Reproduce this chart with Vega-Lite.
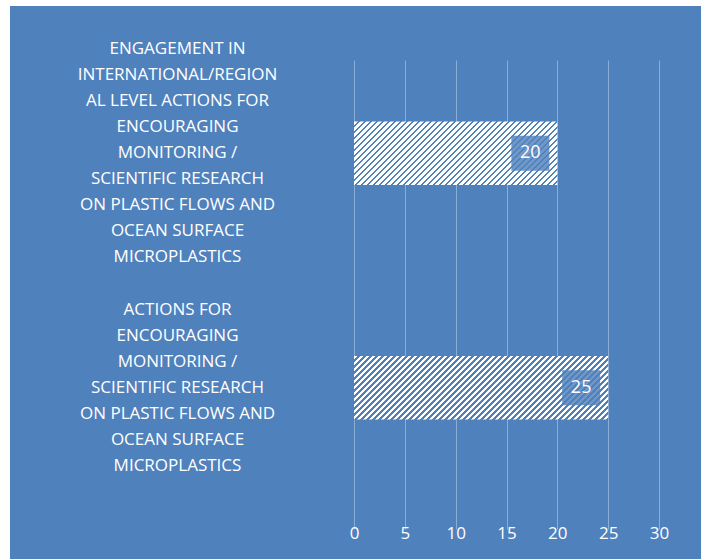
{
 "$schema": "https://vega.github.io/schema/vega-lite/v6.json",
 "width": 691, "height": 553,
 "autosize": {"type": "none"},
 "padding": {"left": 10, "top": 6, "right": 3, "bottom": 0},
 "background": "white",
 "config": {"view": {"fill": "#4f81bd", "stroke": null}, "font": "Open Sans"},
 "data": {"values": [
   {"label": "ENGAGEMENT IN\nINTERNATIONAL/REGION\nAL LEVEL ACTIONS FOR\nENCOURAGING\nMONITORING /\nSCIENTIFIC RESEARCH\nON PLASTIC FLOWS AND\nOCEAN SURFACE\nMICROPLASTICS", "value": 20},
   {"label": "ACTIONS FOR\nENCOURAGING\nMONITORING /\nSCIENTIFIC RESEARCH\nON PLASTIC FLOWS AND\nOCEAN SURFACE\nMICROPLASTICS", "value": 25}
 ]},
 "encoding": {
   "y": {"field": "label", "type": "nominal", "sort": null,
     "scale": {"range": [30, 499], "paddingInner": 0.73, "paddingOuter": 0.365},
     "axis": {"title": null, "orient": "left", "offset": -167, "domain": false, "ticks": false, "tickSize": 0, "labelPadding": 0, "labelAlign": "center", "labelBaseline": "middle", "labelFontSize": 17, "labelColor": "white", "labelLineHeight": 26, "labelLimit": 0, "labelExpr": "split(datum.label, '\\n')", "labelOffset": {"condition": {"test": "indexof(datum.value, 'ENGAGEMENT') === 0", "value": -104}, "value": -78}, "grid": false}},
   "x": {"field": "value", "type": "quantitative",
     "scale": {"domain": [-33.836, 34.131], "nice": false, "zero": false},
     "axis": {"title": null, "values": [0, 5, 10, 15, 20, 25, 30], "orient": "bottom", "offset": -54, "domain": false, "ticks": false, "tickSize": 0, "labelPadding": 20, "labelFontSize": 17, "labelColor": "white", "grid": true, "gridColor": "white", "gridOpacity": 0.35, "gridWidth": 1}}
 },
 "layer": [
  {"transform": [{"filter": "datum.value == 20"}],
   "mark": {"type": "bar", "fill": {"gradient": "linear", "x1": 0, "y1": 0, "x2": 2.69, "y2": 0.8376, "stops": [
{"offset":0,"color":"#fff"},{"offset":0.0062,"color":"#fff"},{"offset":0.0062,"color":"#4f81bd"},{"offset":0.01,"color":"#4f81bd"},
{"offset":0.01,"color":"#fff"},{"offset":0.0162,"color":"#fff"},{"offset":0.0162,"color":"#4f81bd"},{"offset":0.02,"color":"#4f81bd"},
{"offset":0.02,"color":"#fff"},{"offset":0.0262,"color":"#fff"},{"offset":0.0262,"color":"#4f81bd"},{"offset":0.03,"color":"#4f81bd"},
{"offset":0.03,"color":"#fff"},{"offset":0.0362,"color":"#fff"},{"offset":0.0362,"color":"#4f81bd"},{"offset":0.04,"color":"#4f81bd"},
{"offset":0.04,"color":"#fff"},{"offset":0.0462,"color":"#fff"},{"offset":0.0462,"color":"#4f81bd"},{"offset":0.05,"color":"#4f81bd"},
{"offset":0.05,"color":"#fff"},{"offset":0.0562,"color":"#fff"},{"offset":0.0562,"color":"#4f81bd"},{"offset":0.06,"color":"#4f81bd"},
{"offset":0.06,"color":"#fff"},{"offset":0.0662,"color":"#fff"},{"offset":0.0662,"color":"#4f81bd"},{"offset":0.07,"color":"#4f81bd"},
{"offset":0.07,"color":"#fff"},{"offset":0.0762,"color":"#fff"},{"offset":0.0762,"color":"#4f81bd"},{"offset":0.08,"color":"#4f81bd"},
{"offset":0.08,"color":"#fff"},{"offset":0.0862,"color":"#fff"},{"offset":0.0862,"color":"#4f81bd"},{"offset":0.09,"color":"#4f81bd"},
{"offset":0.09,"color":"#fff"},{"offset":0.0962,"color":"#fff"},{"offset":0.0962,"color":"#4f81bd"},{"offset":0.10,"color":"#4f81bd"},
{"offset":0.10,"color":"#fff"},{"offset":0.1062,"color":"#fff"},{"offset":0.1062,"color":"#4f81bd"},{"offset":0.11,"color":"#4f81bd"},
{"offset":0.11,"color":"#fff"},{"offset":0.1162,"color":"#fff"},{"offset":0.1162,"color":"#4f81bd"},{"offset":0.12,"color":"#4f81bd"},
{"offset":0.12,"color":"#fff"},{"offset":0.1262,"color":"#fff"},{"offset":0.1262,"color":"#4f81bd"},{"offset":0.13,"color":"#4f81bd"},
{"offset":0.13,"color":"#fff"},{"offset":0.1362,"color":"#fff"},{"offset":0.1362,"color":"#4f81bd"},{"offset":0.14,"color":"#4f81bd"},
{"offset":0.14,"color":"#fff"},{"offset":0.1462,"color":"#fff"},{"offset":0.1462,"color":"#4f81bd"},{"offset":0.15,"color":"#4f81bd"},
{"offset":0.15,"color":"#fff"},{"offset":0.1562,"color":"#fff"},{"offset":0.1562,"color":"#4f81bd"},{"offset":0.16,"color":"#4f81bd"},
{"offset":0.16,"color":"#fff"},{"offset":0.1662,"color":"#fff"},{"offset":0.1662,"color":"#4f81bd"},{"offset":0.17,"color":"#4f81bd"},
{"offset":0.17,"color":"#fff"},{"offset":0.1762,"color":"#fff"},{"offset":0.1762,"color":"#4f81bd"},{"offset":0.18,"color":"#4f81bd"},
{"offset":0.18,"color":"#fff"},{"offset":0.1862,"color":"#fff"},{"offset":0.1862,"color":"#4f81bd"},{"offset":0.19,"color":"#4f81bd"},
{"offset":0.19,"color":"#fff"},{"offset":0.1962,"color":"#fff"},{"offset":0.1962,"color":"#4f81bd"},{"offset":0.20,"color":"#4f81bd"},
{"offset":0.20,"color":"#fff"},{"offset":0.2062,"color":"#fff"},{"offset":0.2062,"color":"#4f81bd"},{"offset":0.21,"color":"#4f81bd"},
{"offset":0.21,"color":"#fff"},{"offset":0.2162,"color":"#fff"},{"offset":0.2162,"color":"#4f81bd"},{"offset":0.22,"color":"#4f81bd"},
{"offset":0.22,"color":"#fff"},{"offset":0.2262,"color":"#fff"},{"offset":0.2262,"color":"#4f81bd"},{"offset":0.23,"color":"#4f81bd"},
{"offset":0.23,"color":"#fff"},{"offset":0.2362,"color":"#fff"},{"offset":0.2362,"color":"#4f81bd"},{"offset":0.24,"color":"#4f81bd"},
{"offset":0.24,"color":"#fff"},{"offset":0.2462,"color":"#fff"},{"offset":0.2462,"color":"#4f81bd"},{"offset":0.25,"color":"#4f81bd"},
{"offset":0.25,"color":"#fff"},{"offset":0.2562,"color":"#fff"},{"offset":0.2562,"color":"#4f81bd"},{"offset":0.26,"color":"#4f81bd"},
{"offset":0.26,"color":"#fff"},{"offset":0.2662,"color":"#fff"},{"offset":0.2662,"color":"#4f81bd"},{"offset":0.27,"color":"#4f81bd"},
{"offset":0.27,"color":"#fff"},{"offset":0.2762,"color":"#fff"},{"offset":0.2762,"color":"#4f81bd"},{"offset":0.28,"color":"#4f81bd"},
{"offset":0.28,"color":"#fff"},{"offset":0.2862,"color":"#fff"},{"offset":0.2862,"color":"#4f81bd"},{"offset":0.29,"color":"#4f81bd"},
{"offset":0.29,"color":"#fff"},{"offset":0.2962,"color":"#fff"},{"offset":0.2962,"color":"#4f81bd"},{"offset":0.30,"color":"#4f81bd"},
{"offset":0.30,"color":"#fff"},{"offset":0.3062,"color":"#fff"},{"offset":0.3062,"color":"#4f81bd"},{"offset":0.31,"color":"#4f81bd"},
{"offset":0.31,"color":"#fff"},{"offset":0.3162,"color":"#fff"},{"offset":0.3162,"color":"#4f81bd"},{"offset":0.32,"color":"#4f81bd"},
{"offset":0.32,"color":"#fff"},{"offset":0.3262,"color":"#fff"},{"offset":0.3262,"color":"#4f81bd"},{"offset":0.33,"color":"#4f81bd"},
{"offset":0.33,"color":"#fff"},{"offset":0.3362,"color":"#fff"},{"offset":0.3362,"color":"#4f81bd"},{"offset":0.34,"color":"#4f81bd"},
{"offset":0.34,"color":"#fff"},{"offset":0.3462,"color":"#fff"},{"offset":0.3462,"color":"#4f81bd"},{"offset":0.35,"color":"#4f81bd"},
{"offset":0.35,"color":"#fff"},{"offset":0.3562,"color":"#fff"},{"offset":0.3562,"color":"#4f81bd"},{"offset":0.36,"color":"#4f81bd"},
{"offset":0.36,"color":"#fff"},{"offset":0.3662,"color":"#fff"},{"offset":0.3662,"color":"#4f81bd"},{"offset":0.37,"color":"#4f81bd"},
{"offset":0.37,"color":"#fff"},{"offset":0.3762,"color":"#fff"},{"offset":0.3762,"color":"#4f81bd"},{"offset":0.38,"color":"#4f81bd"},
{"offset":0.38,"color":"#fff"},{"offset":0.3862,"color":"#fff"},{"offset":0.3862,"color":"#4f81bd"},{"offset":0.39,"color":"#4f81bd"},
{"offset":0.39,"color":"#fff"},{"offset":0.3962,"color":"#fff"},{"offset":0.3962,"color":"#4f81bd"},{"offset":0.40,"color":"#4f81bd"},
{"offset":0.40,"color":"#fff"},{"offset":0.4062,"color":"#fff"},{"offset":0.4062,"color":"#4f81bd"},{"offset":0.41,"color":"#4f81bd"},
{"offset":0.41,"color":"#fff"},{"offset":0.4162,"color":"#fff"},{"offset":0.4162,"color":"#4f81bd"},{"offset":0.42,"color":"#4f81bd"},
{"offset":0.42,"color":"#fff"},{"offset":0.4262,"color":"#fff"},{"offset":0.4262,"color":"#4f81bd"},{"offset":0.43,"color":"#4f81bd"},
{"offset":0.43,"color":"#fff"},{"offset":0.4362,"color":"#fff"},{"offset":0.4362,"color":"#4f81bd"},{"offset":0.44,"color":"#4f81bd"},
{"offset":0.44,"color":"#fff"},{"offset":0.4462,"color":"#fff"},{"offset":0.4462,"color":"#4f81bd"},{"offset":0.45,"color":"#4f81bd"},
{"offset":0.45,"color":"#fff"}
   ]}}},
  {"transform": [{"filter": "datum.value == 25"}],
   "mark": {"type": "bar", "fill": {"gradient": "linear", "x1": 0, "y1": 0, "x2": 2.2227, "y2": 0.5537, "stops": [
{"offset":0,"color":"#fff"},{"offset":0.0062,"color":"#fff"},{"offset":0.0062,"color":"#4f81bd"},{"offset":0.01,"color":"#4f81bd"},
{"offset":0.01,"color":"#fff"},{"offset":0.0162,"color":"#fff"},{"offset":0.0162,"color":"#4f81bd"},{"offset":0.02,"color":"#4f81bd"},
{"offset":0.02,"color":"#fff"},{"offset":0.0262,"color":"#fff"},{"offset":0.0262,"color":"#4f81bd"},{"offset":0.03,"color":"#4f81bd"},
{"offset":0.03,"color":"#fff"},{"offset":0.0362,"color":"#fff"},{"offset":0.0362,"color":"#4f81bd"},{"offset":0.04,"color":"#4f81bd"},
{"offset":0.04,"color":"#fff"},{"offset":0.0462,"color":"#fff"},{"offset":0.0462,"color":"#4f81bd"},{"offset":0.05,"color":"#4f81bd"},
{"offset":0.05,"color":"#fff"},{"offset":0.0562,"color":"#fff"},{"offset":0.0562,"color":"#4f81bd"},{"offset":0.06,"color":"#4f81bd"},
{"offset":0.06,"color":"#fff"},{"offset":0.0662,"color":"#fff"},{"offset":0.0662,"color":"#4f81bd"},{"offset":0.07,"color":"#4f81bd"},
{"offset":0.07,"color":"#fff"},{"offset":0.0762,"color":"#fff"},{"offset":0.0762,"color":"#4f81bd"},{"offset":0.08,"color":"#4f81bd"},
{"offset":0.08,"color":"#fff"},{"offset":0.0862,"color":"#fff"},{"offset":0.0862,"color":"#4f81bd"},{"offset":0.09,"color":"#4f81bd"},
{"offset":0.09,"color":"#fff"},{"offset":0.0962,"color":"#fff"},{"offset":0.0962,"color":"#4f81bd"},{"offset":0.10,"color":"#4f81bd"},
{"offset":0.10,"color":"#fff"},{"offset":0.1062,"color":"#fff"},{"offset":0.1062,"color":"#4f81bd"},{"offset":0.11,"color":"#4f81bd"},
{"offset":0.11,"color":"#fff"},{"offset":0.1162,"color":"#fff"},{"offset":0.1162,"color":"#4f81bd"},{"offset":0.12,"color":"#4f81bd"},
{"offset":0.12,"color":"#fff"},{"offset":0.1262,"color":"#fff"},{"offset":0.1262,"color":"#4f81bd"},{"offset":0.13,"color":"#4f81bd"},
{"offset":0.13,"color":"#fff"},{"offset":0.1362,"color":"#fff"},{"offset":0.1362,"color":"#4f81bd"},{"offset":0.14,"color":"#4f81bd"},
{"offset":0.14,"color":"#fff"},{"offset":0.1462,"color":"#fff"},{"offset":0.1462,"color":"#4f81bd"},{"offset":0.15,"color":"#4f81bd"},
{"offset":0.15,"color":"#fff"},{"offset":0.1562,"color":"#fff"},{"offset":0.1562,"color":"#4f81bd"},{"offset":0.16,"color":"#4f81bd"},
{"offset":0.16,"color":"#fff"},{"offset":0.1662,"color":"#fff"},{"offset":0.1662,"color":"#4f81bd"},{"offset":0.17,"color":"#4f81bd"},
{"offset":0.17,"color":"#fff"},{"offset":0.1762,"color":"#fff"},{"offset":0.1762,"color":"#4f81bd"},{"offset":0.18,"color":"#4f81bd"},
{"offset":0.18,"color":"#fff"},{"offset":0.1862,"color":"#fff"},{"offset":0.1862,"color":"#4f81bd"},{"offset":0.19,"color":"#4f81bd"},
{"offset":0.19,"color":"#fff"},{"offset":0.1962,"color":"#fff"},{"offset":0.1962,"color":"#4f81bd"},{"offset":0.20,"color":"#4f81bd"},
{"offset":0.20,"color":"#fff"},{"offset":0.2062,"color":"#fff"},{"offset":0.2062,"color":"#4f81bd"},{"offset":0.21,"color":"#4f81bd"},
{"offset":0.21,"color":"#fff"},{"offset":0.2162,"color":"#fff"},{"offset":0.2162,"color":"#4f81bd"},{"offset":0.22,"color":"#4f81bd"},
{"offset":0.22,"color":"#fff"},{"offset":0.2262,"color":"#fff"},{"offset":0.2262,"color":"#4f81bd"},{"offset":0.23,"color":"#4f81bd"},
{"offset":0.23,"color":"#fff"},{"offset":0.2362,"color":"#fff"},{"offset":0.2362,"color":"#4f81bd"},{"offset":0.24,"color":"#4f81bd"},
{"offset":0.24,"color":"#fff"},{"offset":0.2462,"color":"#fff"},{"offset":0.2462,"color":"#4f81bd"},{"offset":0.25,"color":"#4f81bd"},
{"offset":0.25,"color":"#fff"},{"offset":0.2562,"color":"#fff"},{"offset":0.2562,"color":"#4f81bd"},{"offset":0.26,"color":"#4f81bd"},
{"offset":0.26,"color":"#fff"},{"offset":0.2662,"color":"#fff"},{"offset":0.2662,"color":"#4f81bd"},{"offset":0.27,"color":"#4f81bd"},
{"offset":0.27,"color":"#fff"},{"offset":0.2762,"color":"#fff"},{"offset":0.2762,"color":"#4f81bd"},{"offset":0.28,"color":"#4f81bd"},
{"offset":0.28,"color":"#fff"},{"offset":0.2862,"color":"#fff"},{"offset":0.2862,"color":"#4f81bd"},{"offset":0.29,"color":"#4f81bd"},
{"offset":0.29,"color":"#fff"},{"offset":0.2962,"color":"#fff"},{"offset":0.2962,"color":"#4f81bd"},{"offset":0.30,"color":"#4f81bd"},
{"offset":0.30,"color":"#fff"},{"offset":0.3062,"color":"#fff"},{"offset":0.3062,"color":"#4f81bd"},{"offset":0.31,"color":"#4f81bd"},
{"offset":0.31,"color":"#fff"},{"offset":0.3162,"color":"#fff"},{"offset":0.3162,"color":"#4f81bd"},{"offset":0.32,"color":"#4f81bd"},
{"offset":0.32,"color":"#fff"},{"offset":0.3262,"color":"#fff"},{"offset":0.3262,"color":"#4f81bd"},{"offset":0.33,"color":"#4f81bd"},
{"offset":0.33,"color":"#fff"},{"offset":0.3362,"color":"#fff"},{"offset":0.3362,"color":"#4f81bd"},{"offset":0.34,"color":"#4f81bd"},
{"offset":0.34,"color":"#fff"},{"offset":0.3462,"color":"#fff"},{"offset":0.3462,"color":"#4f81bd"},{"offset":0.35,"color":"#4f81bd"},
{"offset":0.35,"color":"#fff"},{"offset":0.3562,"color":"#fff"},{"offset":0.3562,"color":"#4f81bd"},{"offset":0.36,"color":"#4f81bd"},
{"offset":0.36,"color":"#fff"},{"offset":0.3662,"color":"#fff"},{"offset":0.3662,"color":"#4f81bd"},{"offset":0.37,"color":"#4f81bd"},
{"offset":0.37,"color":"#fff"},{"offset":0.3762,"color":"#fff"},{"offset":0.3762,"color":"#4f81bd"},{"offset":0.38,"color":"#4f81bd"},
{"offset":0.38,"color":"#fff"},{"offset":0.3862,"color":"#fff"},{"offset":0.3862,"color":"#4f81bd"},{"offset":0.39,"color":"#4f81bd"},
{"offset":0.39,"color":"#fff"},{"offset":0.3962,"color":"#fff"},{"offset":0.3962,"color":"#4f81bd"},{"offset":0.40,"color":"#4f81bd"},
{"offset":0.40,"color":"#fff"},{"offset":0.4062,"color":"#fff"},{"offset":0.4062,"color":"#4f81bd"},{"offset":0.41,"color":"#4f81bd"},
{"offset":0.41,"color":"#fff"},{"offset":0.4162,"color":"#fff"},{"offset":0.4162,"color":"#4f81bd"},{"offset":0.42,"color":"#4f81bd"},
{"offset":0.42,"color":"#fff"},{"offset":0.4262,"color":"#fff"},{"offset":0.4262,"color":"#4f81bd"},{"offset":0.43,"color":"#4f81bd"},
{"offset":0.43,"color":"#fff"},{"offset":0.4362,"color":"#fff"},{"offset":0.4362,"color":"#4f81bd"},{"offset":0.44,"color":"#4f81bd"},
{"offset":0.44,"color":"#fff"},{"offset":0.4462,"color":"#fff"},{"offset":0.4462,"color":"#4f81bd"},{"offset":0.45,"color":"#4f81bd"},
{"offset":0.45,"color":"#fff"},{"offset":0.4562,"color":"#fff"},{"offset":0.4562,"color":"#4f81bd"},{"offset":0.46,"color":"#4f81bd"},
{"offset":0.46,"color":"#fff"},{"offset":0.4662,"color":"#fff"},{"offset":0.4662,"color":"#4f81bd"},{"offset":0.47,"color":"#4f81bd"},
{"offset":0.47,"color":"#fff"},{"offset":0.4762,"color":"#fff"},{"offset":0.4762,"color":"#4f81bd"},{"offset":0.48,"color":"#4f81bd"},
{"offset":0.48,"color":"#fff"},{"offset":0.4862,"color":"#fff"},{"offset":0.4862,"color":"#4f81bd"},{"offset":0.49,"color":"#4f81bd"},
{"offset":0.49,"color":"#fff"},{"offset":0.4962,"color":"#fff"},{"offset":0.4962,"color":"#4f81bd"},{"offset":0.50,"color":"#4f81bd"},
{"offset":0.50,"color":"#fff"},{"offset":0.5062,"color":"#fff"},{"offset":0.5062,"color":"#4f81bd"},{"offset":0.51,"color":"#4f81bd"},
{"offset":0.51,"color":"#fff"},{"offset":0.5162,"color":"#fff"},{"offset":0.5162,"color":"#4f81bd"},{"offset":0.52,"color":"#4f81bd"},
{"offset":0.52,"color":"#fff"},{"offset":0.5262,"color":"#fff"},{"offset":0.5262,"color":"#4f81bd"},{"offset":0.53,"color":"#4f81bd"},
{"offset":0.53,"color":"#fff"},{"offset":0.5362,"color":"#fff"},{"offset":0.5362,"color":"#4f81bd"},{"offset":0.54,"color":"#4f81bd"},
{"offset":0.54,"color":"#fff"}
   ]}}},
  {"mark": {"type": "point", "shape": "M-1,-0.92L1,-0.92L1,0.92L-1,0.92Z", "size": 1444, "filled": true, "fill": "#4f81bd", "opacity": 0.82, "strokeWidth": 0, "xOffset": -27}},
  {"mark": {"type": "text", "dx": -27, "fontSize": 18, "color": "white", "align": "center", "baseline": "middle"},
   "encoding": {"text": {"field": "value", "type": "quantitative"}}}
 ]
}
